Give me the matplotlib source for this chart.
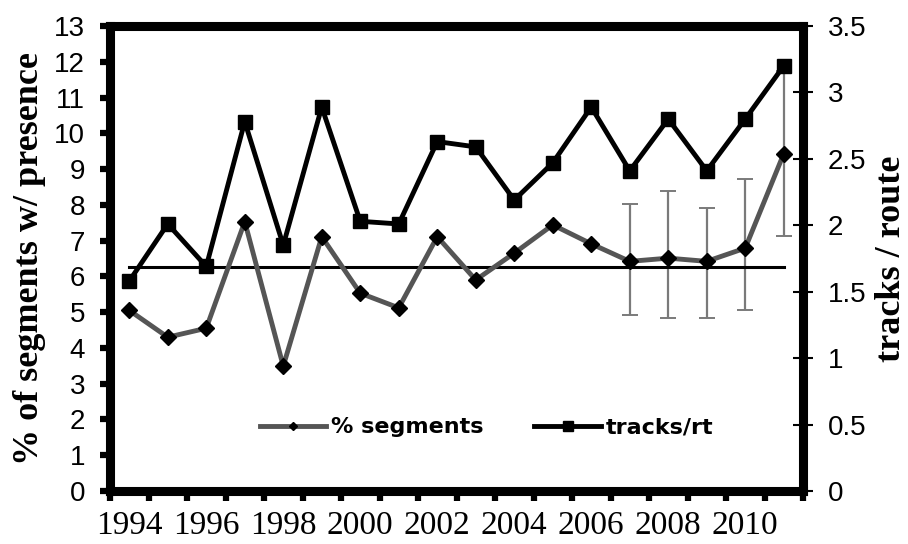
import matplotlib
matplotlib.use('Agg')
import matplotlib.pyplot as plt
from matplotlib.lines import Line2D

plt.rcParams['font.family'] = ['Liberation Sans', 'DejaVu Sans']

# survey years
years = list(range(1994, 2012))

# % of segments with presence (left axis)
pct_segments = [5.05, 4.3, 4.55, 7.53, 3.49, 7.11, 5.53, 5.12, 7.11, 5.9,
                6.65, 7.44, 6.91, 6.42, 6.51, 6.42, 6.79, 9.43]

# tracks per route (right axis)
tracks_rt = [1.58, 2.01, 1.69, 2.78, 1.85, 2.89, 2.03, 2.01, 2.63, 2.59,
             2.19, 2.47, 2.89, 2.41, 2.80, 2.41, 2.80, 3.20]

# error bars on % segments, only the last years have them
err_years = [2007, 2008, 2009, 2010, 2011]
err_vals = [6.42, 6.51, 6.42, 6.79, 9.43]
err_low = [1.49, 1.67, 1.58, 1.74, 2.30]
err_high = [1.59, 1.88, 1.48, 1.93, 2.30]

# long-term mean of % segments
mean_pct = 6.25

label_years = list(range(1994, 2011, 2))

fig = plt.figure(figsize=(9.08, 5.44), dpi=100)
ax = fig.add_axes([110 / 908, 53 / 544, 693 / 908, 465 / 544])
ax2 = ax.twinx()

line_gray = '#555555'

ax.plot(years, pct_segments, color=line_gray, lw=3.5, marker='D', ms=8.5,
        mfc='black', mec='black', mew=1, zorder=3)
ax.errorbar(err_years, err_vals, yerr=[err_low, err_high], fmt='none',
            ecolor='#7a7a7a', elinewidth=1.6, capsize=5.5, capthick=1.4,
            zorder=2)
ax.plot([years[0], years[-1]], [mean_pct, mean_pct], color='black', lw=2.2,
        zorder=2)

ax2.plot(years, tracks_rt, color='black', lw=3.5, marker='s', ms=10,
         mfc='black', mec='black', mew=1, zorder=3)

# axis limits and ticks
ax.set_xlim(1993.5, 2011.5)
ax.set_ylim(0, 13)
ax2.set_ylim(0, 3.5)

ax.set_yticks(range(0, 14))
ax2.set_yticks([0, 0.5, 1, 1.5, 2, 2.5, 3, 3.5])
ax2.set_yticklabels(['0', '0.5', '1', '1.5', '2', '2.5', '3', '3.5'])

ax.set_xticks([y - 0.5 for y in years] + [2011.5])
ax.set_xticklabels([])
ax.set_xticks(label_years, minor=True)
ax.set_xticklabels([str(y) for y in label_years], minor=True,
                   fontfamily='Liberation Serif', fontsize=24)
ax.tick_params(axis='x', which='major', direction='out', length=7, width=4.5)
ax.tick_params(axis='x', which='minor', length=0, pad=14)
ax.tick_params(axis='y', direction='out', length=7, width=4.5, pad=11,
               labelsize=20)
ax2.tick_params(axis='y', direction='inout', length=14, width=1.5, pad=11,
                labelsize=20)

for a in (ax, ax2):
    for s in a.spines.values():
        s.set_linewidth(6.5)
        s.set_color('black')

ax.set_ylabel('% of segments w/ presence', fontfamily='Liberation Serif',
              fontweight='bold', fontsize=26, labelpad=6)
ax2.set_ylabel('tracks / route', fontfamily='Liberation Serif',
               fontweight='bold', fontsize=26, rotation=90, labelpad=6)

handles = [
    Line2D([], [], color=line_gray, lw=3.5, marker='D', ms=4,
           mfc='black', mec='black'),
    Line2D([], [], color='black', lw=3.5, marker='s', ms=7,
           mfc='black', mec='black'),
]
leg = ax2.legend(handles, ['% segments', 'tracks/rt'], ncol=2, loc='center',
                 bbox_to_anchor=(0.543, 0.137), frameon=False,
                 handlelength=3.0, handletextpad=0.2, columnspacing=2.3,
                 prop={'family': 'DejaVu Sans', 'weight': 'bold', 'size': 16})

fig.savefig('out.png', dpi=100)
